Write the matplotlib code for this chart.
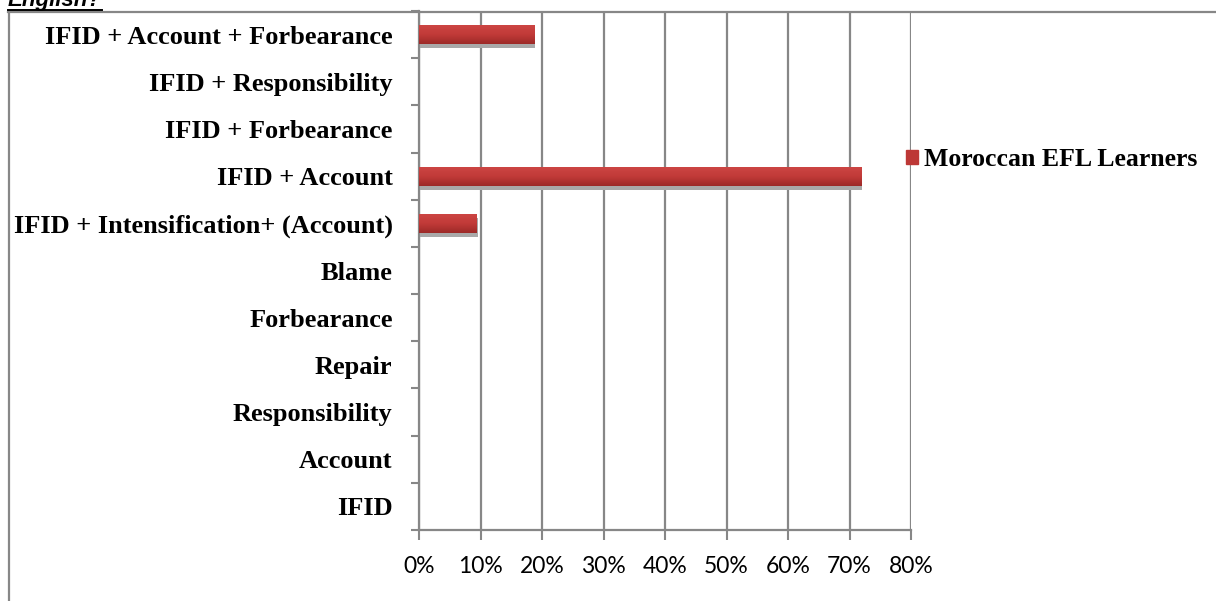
import numpy as np
import matplotlib
matplotlib.use("Agg")
import matplotlib.pyplot as plt
import matplotlib.transforms as mtransforms
from matplotlib.lines import Line2D
from matplotlib.colors import LinearSegmentedColormap

# strategy combinations, bottom to top as drawn
categories = [
    "IFID",
    "Account",
    "Responsibility",
    "Repair",
    "Forbearance",
    "Blame",
    "IFID + Intensification+ (Account)",
    "IFID + Account",
    "IFID + Forbearance",
    "IFID + Responsibility",
    "IFID + Account + Forbearance",
]
# share of responses (%)
moroccan = [0, 0, 0, 0, 0, 0, 9.375, 71.875, 0, 0, 18.75]
series_name = "Moroccan EFL Learners"
xticks = [0, 10, 20, 30, 40, 50, 60, 70, 80]

W, H = 1216, 601
fig = plt.figure(figsize=(W / 100, H / 100), dpi=100)
ax = fig.add_axes([419 / W, 1 - 530 / H, (911 - 419) / W, (530 - 11) / H])

grey = "#878787"
bar_h = 0.4
y = np.arange(len(categories))
vals = np.array(moroccan)

# drop shadow under each bar
shadow_tr = mtransforms.offset_copy(ax.transData, fig=fig, x=1, y=-4, units="dots")
ax.barh(y, vals, height=bar_h, color="#a9a9a9", transform=shadow_tr, zorder=3)

bars = ax.barh(y, vals, height=bar_h, color="#b83533", zorder=4,
               label=series_name)

# vertical shading on the bars
cmap = LinearSegmentedColormap.from_list("bar", ["#9c2a28", "#c13a38", "#cc4543"])
grad = np.linspace(0, 1, 64).reshape(-1, 1)
for b in bars:
    if b.get_width() <= 0:
        continue
    x0, y0 = b.get_x(), b.get_y()
    ax.imshow(grad, cmap=cmap, aspect="auto", origin="lower", zorder=5,
              extent=(x0, x0 + b.get_width(), y0, y0 + b.get_height()),
              interpolation="bilinear")

ax.set_xlim(0, 80)
ax.set_ylim(-0.5, len(categories) - 0.5)

ax.set_xticks(xticks)
ax.set_xticklabels([f"{t}%" for t in xticks], family="Lato", fontsize=16.5)
ax.tick_params(axis="x", direction="out", length=7, width=1.5, color=grey, pad=12)

ax.set_yticks(y)
ax.set_yticklabels(categories, family="Liberation Serif", fontweight="bold",
                   fontsize=19)
ax.set_yticks(np.arange(len(categories) + 1) - 0.5, minor=True)
ax.tick_params(axis="y", which="major", length=0, pad=19)
ax.tick_params(axis="y", which="minor", direction="out", length=6, width=1.5,
               color=grey)

ax.grid(axis="x", color=grey, linewidth=1.6, zorder=0)
ax.set_axisbelow(True)
for s in ["top", "right"]:
    ax.spines[s].set_visible(False)
for s in ["left", "bottom"]:
    ax.spines[s].set_color(grey)
    ax.spines[s].set_linewidth(1.6)

leg = ax.legend(loc="center left", bbox_to_anchor=(906 / W, 1 - 160 / H),
                bbox_transform=fig.transFigure, frameon=False,
                borderpad=0, borderaxespad=0,
                handlelength=0.45, handleheight=0.45, handletextpad=0.27,
                prop={"family": "Liberation Serif", "weight": "bold", "size": 18.5})
for h in leg.legend_handles:
    h.set_color("#bd3836")

# outer chart border (top and left edges)
fig.add_artist(Line2D([8 / W, 1], [1 - 11.5 / H, 1 - 11.5 / H], color=grey, lw=1.6,
                      transform=fig.transFigure))
fig.add_artist(Line2D([8.5 / W, 8.5 / W], [0, 1 - 11 / H], color=grey, lw=1.6,
                      transform=fig.transFigure))

# heading text running off the top edge, with underline
head = fig.text(8 / W, 1 - 6 / H, "English?", family="Liberation Sans",
                fontweight="bold", style="italic", fontsize=16, va="baseline")
fig.canvas.draw()
bb = head.get_window_extent()
fig.add_artist(Line2D([bb.x0 / W, bb.x1 / W], [1 - 9.5 / H, 1 - 9.5 / H],
                      color="black", lw=1.4, transform=fig.transFigure))

fig.savefig("out.png", dpi=100)
